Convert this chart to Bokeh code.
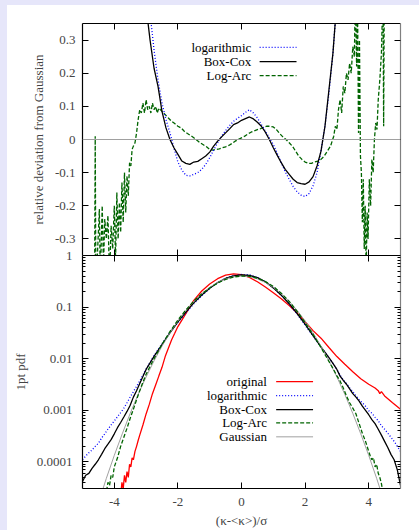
from bokeh.plotting import figure
from bokeh.models import (LinearAxis, LogAxis, FixedTicker, PrintfTickFormatter,
                          Span, Range1d, Grid, CustomLabelingPolicy)
from bokeh.layouts import column
from bokeh.embed import file_html
from bokeh.resources import INLINE
from bokeh.core.properties import value

# ---------------- data: top panel (relative deviation from Gaussian) ----------------
TOP_X = [-3.0, -2.875, -2.75, -2.625, -2.5, -2.375, -2.25, -2.125, -2.0, -1.875, -1.75, -1.625,
         -1.5, -1.375, -1.25, -1.125, -1.0, -0.875, -0.75, -0.625, -0.5, -0.375, -0.25, -0.125,
         0.0, 0.125, 0.25, 0.375, 0.5, 0.625, 0.75, 0.875, 1.0, 1.125, 1.25, 1.375, 1.5, 1.625,
         1.75, 1.875, 2.0, 2.125, 2.25, 2.375, 2.5, 2.625, 2.75, 2.875, 3.0]
TOP_LOG = [0.48, 0.38, 0.27, 0.18, 0.11, 0.06, 0.02, -0.025, -0.068, -0.092,
           -0.108, -0.11, -0.105, -0.1, -0.09, -0.075, -0.055, -0.032, -0.01, 0.01,
           0.027, 0.042, 0.055, 0.064, 0.072, 0.082, 0.09, 0.08, 0.065, 0.045,
           0.025, 0.005, -0.015, -0.042, -0.07, -0.097, -0.12, -0.142, -0.158, -0.168,
           -0.172, -0.163, -0.14, -0.1, -0.035, 0.04, 0.14, 0.26, 0.42]
TOP_BOXCOX = [0.40, 0.30, 0.215, 0.16, 0.085, 0.035, 0.0, -0.025, -0.045, -0.065,
              -0.072, -0.075, -0.068, -0.066, -0.058, -0.05, -0.038, -0.02, -0.005, 0.008,
              0.02, 0.032, 0.045, 0.05, 0.058, 0.063, 0.068, 0.062, 0.052, 0.04,
              0.022, 0.0, -0.025, -0.048, -0.07, -0.09, -0.105, -0.12, -0.13, -0.133,
              -0.135, -0.128, -0.112, -0.08, -0.035, 0.04, 0.15, 0.26, 0.42]
TOP_LOGARC_X = [-4.62, -4.60, -4.58, -4.50, -4.47, -4.44, -4.38, -4.34, -4.30, -4.25, -4.20, -4.15,
                -4.10, -4.05, -4.00, -3.96, -3.92, -3.88, -3.84, -3.80, -3.76, -3.72, -3.68, -3.64,
                -3.60, -3.56, -3.52, -3.48, -3.44, -3.40, -3.35, -3.30, -3.25, -3.20, -3.15, -3.10,
                -3.05, -3.00, -2.95, -2.90, -2.85, -2.80, -2.75, -2.70, -2.65, -2.60, -2.50, -2.40,
                -2.30, -2.20, -2.10, -2.00, -1.90, -1.80, -1.70, -1.60, -1.50, -1.40, -1.30, -1.20,
                -1.10, -1.00, -0.90, -0.80, -0.70, -0.60, -0.50, -0.40, -0.30, -0.20, -0.10, 0.00,
                0.10, 0.20, 0.30, 0.40, 0.50, 0.60, 0.70, 0.80, 0.90, 1.00, 1.10, 1.20,
                1.30, 1.40, 1.50, 1.60, 1.70, 1.80, 1.90, 2.00, 2.10, 2.20, 2.30, 2.40,
                2.50, 2.60, 2.70, 2.80, 2.90, 2.95, 3.00, 3.05, 3.10, 3.15, 3.20, 3.25,
                3.30, 3.35, 3.40, 3.45, 3.50, 3.55, 3.58, 3.62, 3.65, 3.68, 3.71, 3.74,
                3.77, 3.80, 3.83, 3.86, 3.89, 3.92, 3.95, 3.98, 4.02, 4.06, 4.10, 4.14,
                4.18, 4.22, 4.26, 4.30, 4.35, 4.40, 4.45, 4.47, 4.49, 4.60, 5.00]
TOP_LOGARC = [-0.45, 0.01, -0.45, -0.28, -0.21, -0.42, -0.20, -0.38, -0.24, -0.30, -0.23, -0.42,
              -0.26, -0.33, -0.20, -0.36, -0.16, -0.30, -0.19, -0.28, -0.13, -0.25, -0.10, -0.22,
              -0.11, -0.17, -0.07, -0.08, -0.03, -0.02, -0.01, 0.02, 0.06, 0.09, 0.08, 0.11,
              0.08, 0.12, 0.09, 0.10, 0.08, 0.11, 0.09, 0.10, 0.08, 0.095, 0.085, 0.075,
              0.065, 0.055, 0.048, 0.04, 0.035, 0.025, 0.018, 0.012, 0.005, -0.002, -0.01, -0.016,
              -0.022, -0.03, -0.032, -0.03, -0.028, -0.025, -0.022, -0.018, -0.012, -0.005, 0.0, 0.005,
              0.01, 0.017, 0.022, 0.026, 0.03, 0.033, 0.037, 0.04, 0.04, 0.038, 0.03, 0.018,
              0.008, 0.0, -0.01, -0.02, -0.035, -0.05, -0.06, -0.068, -0.072, -0.072, -0.068, -0.065,
              -0.06, -0.05, -0.035, -0.02, 0.01, 0.04, 0.03, 0.09, 0.12, 0.08, 0.16, 0.14,
              0.20, 0.18, 0.23, 0.20, 0.28, 0.25, 0.45, 0.22, 0.40, 0.02, 0.30, -0.05,
              -0.10, -0.25, -0.12, -0.33, -0.20, -0.40, -0.22, -0.30, -0.12, -0.20, -0.06, -0.10,
              0.0, 0.05, 0.03, 0.12, 0.18, 0.26, 0.45, 0.04, 0.45, 0.6, 0.8]
TOP_YTICKS = [-0.3, -0.2, -0.1, 0, 0.1, 0.2, 0.3]

# ---------------- data: bottom panel (1pt pdf) ----------------
X_TICKS = [-4, -2, 0, 2, 4]
PDF_YTICKS = [1e-4, 1e-3, 1e-2, 1e-1, 1.0]

GAUSS_X = [-5.0, -4.75, -4.5, -4.25, -4.0, -3.75, -3.5, -3.25, -3.0, -2.75, -2.5, -2.25, -2.0,
           -1.75, -1.5, -1.25, -1.0, -0.75, -0.5, -0.25, 0.0, 0.25, 0.5, 0.75, 1.0, 1.25, 1.5,
           1.75, 2.0, 2.25, 2.5, 2.75, 3.0, 3.25, 3.5, 3.75, 4.0, 4.25, 4.5, 4.75, 5.0]
GAUSS_Y = [1.5e-6, 5.1e-6, 1.6e-5, 4.8e-5, 1.34e-4, 3.5e-4, 8.7e-4, 2.03e-3, 4.43e-3, 9.1e-3,
           0.0175, 0.0317, 0.054, 0.0863, 0.1295, 0.1826, 0.242, 0.3011, 0.3521, 0.3867, 0.3989,
           0.3867, 0.3521, 0.3011, 0.242, 0.1826, 0.1295, 0.0863, 0.054, 0.0317, 0.0175, 9.1e-3,
           4.43e-3, 2.03e-3, 8.7e-4, 3.5e-4, 1.34e-4, 4.8e-5, 1.6e-5, 5.1e-6, 1.5e-6]

TR_X = [-5.0, -4.9, -4.8, -4.7, -4.6, -4.5, -4.4, -4.3, -4.2, -4.1, -4.0, -3.9, -3.8, -3.7,
        -3.6, -3.5, -3.4, -3.3, -3.2, -3.1, -3.0, -2.875, -2.75, -2.5, -2.25, -2.0, -1.75, -1.5,
        -1.25, -1.0, -0.75, -0.5, -0.25, 0.0, 0.25, 0.5, 0.75, 1.0, 1.25, 1.5, 1.75, 2.0, 2.25,
        2.5, 2.75, 2.875, 3.0, 3.1, 3.2, 3.3, 3.4, 3.5, 3.6, 3.7, 3.8, 3.9, 4.0, 4.1, 4.2, 4.3,
        4.4, 4.5, 4.6, 4.7, 4.8, 4.9, 5.0]
PDF_LOG = [0.00011, 0.00013, 0.00015, 0.00017, 0.0002, 0.00023, 0.00029, 0.00035, 0.00043, 0.00052,
           0.00062, 0.00075, 0.0009, 0.0011, 0.0014, 0.0018, 0.0023, 0.0029, 0.0037, 0.0048,
           0.0063, 0.0085, 0.0116, 0.0194, 0.0323, 0.0503, 0.077, 0.1164, 0.1665, 0.2287,
           0.298, 0.3615, 0.408, 0.428, 0.422, 0.375, 0.3085, 0.238, 0.170, 0.1144,
           0.0727, 0.0447, 0.0273, 0.0169, 0.0104, 0.0081, 0.0062, 0.0048, 0.0039, 0.0033,
           0.0027, 0.0023, 0.0019, 0.0016, 0.0014, 0.0012, 0.00098, 0.00088, 0.00073, 0.00063,
           0.0005, 0.00043, 0.00036, 0.0003, 0.00025, 0.0002, 0.00016]
PDF_BOXCOX = [4.2e-5, 5.5e-5, 6e-5, 7.5e-5, 9e-5, 0.00011, 0.00014, 0.00018, 0.00022, 0.00027,
              0.00035, 0.00046, 0.00058, 0.00074, 0.00095, 0.00125, 0.0018, 0.0024, 0.0033, 0.0045,
              0.0062, 0.0083, 0.0111, 0.0188, 0.0317, 0.0516, 0.0801, 0.1209, 0.172, 0.2323,
              0.2995, 0.359, 0.4044, 0.422, 0.4133, 0.3714, 0.3085, 0.236, 0.1702, 0.1164,
              0.0751, 0.0467, 0.0281, 0.0169, 0.0105, 0.0081, 0.0062, 0.0046, 0.0038, 0.0032,
              0.0026, 0.0021, 0.0018, 0.0015, 0.0012, 0.001, 0.00082, 0.00066, 0.00055, 0.00043,
              0.00033, 0.00025, 0.00019, 0.00014, 0.00011, 7e-5, 3.5e-5]

LA_X = [-4.35, -4.3, -4.25, -4.2, -4.15, -4.1, -4.05, -4.0, -3.9, -3.8, -3.7, -3.6, -3.5, -3.4,
        -3.3, -3.2, -3.1, -3.0, -2.875, -2.75, -2.5, -2.25, -2.0, -1.75, -1.5, -1.25, -1.0,
        -0.75, -0.5, -0.25, 0.0, 0.25, 0.5, 0.75, 1.0, 1.25, 1.5, 1.75, 2.0, 2.25, 2.5, 2.75,
        2.875, 3.0, 3.1, 3.2, 3.3, 3.4, 3.5, 3.6, 3.7, 3.8, 3.9, 4.0, 4.05, 4.1, 4.15, 4.2,
        4.25, 4.3, 4.35, 4.4, 4.45]
PDF_LOGARC = [2.2e-5, 3e-5, 2.6e-5, 4e-5, 3.5e-5, 5.5e-5, 5e-5, 8e-5, 0.00012, 0.0002, 0.0003,
              0.00045, 0.0007, 0.00105, 0.0016, 0.0024, 0.0035, 0.005, 0.0071, 0.01, 0.0189,
              0.0334, 0.0562, 0.088, 0.1307, 0.1808, 0.2347, 0.292, 0.344, 0.383, 0.401, 0.395,
              0.3626, 0.3124, 0.2517, 0.1857, 0.1287, 0.0824, 0.0502, 0.0295, 0.0165, 0.00883,
              0.0065, 0.00465, 0.0037, 0.0027, 0.0019, 0.0014, 0.0011, 0.00085, 0.00055, 0.00036,
              0.00025, 0.00016, 0.00013, 0.00011, 0.00012, 8e-5, 9e-5, 6e-5, 5e-5, 3.8e-5, 2.5e-5]

ORIG_X = [-3.8, -3.76, -3.72, -3.68, -3.64, -3.6, -3.56, -3.52, -3.48, -3.44, -3.4, -3.35, -3.3,
          -3.25, -3.2, -3.1, -3.0, -2.9, -2.8, -2.7, -2.6, -2.5, -2.4, -2.3, -2.2, -2.1, -2.0,
          -1.75, -1.5, -1.25, -1.0, -0.75, -0.5, -0.25, 0.0, 0.25, 0.5, 0.75, 1.0, 1.25, 1.5,
          1.75, 2.0, 2.25, 2.5, 2.75, 3.0, 3.25, 3.5, 3.75, 4.0, 4.2, 4.3, 4.35, 4.4, 4.5,
          4.75, 5.0]
PDF_ORIG = [2.2e-5, 4e-5, 3e-5, 5.5e-5, 4e-5, 6.5e-5, 5e-5, 9e-5, 8e-5, 0.00012, 0.00011, 0.00016,
            0.0002, 0.00026, 0.00033, 0.00052, 0.00085, 0.0013, 0.0021, 0.0031, 0.0046, 0.0068,
            0.011, 0.016, 0.023, 0.031, 0.042, 0.075, 0.135, 0.205, 0.28, 0.355, 0.415, 0.44,
            0.425, 0.375, 0.31, 0.245, 0.19, 0.145, 0.107, 0.077, 0.052, 0.035, 0.025, 0.0165,
            0.011, 0.0078, 0.0056, 0.0041, 0.0032, 0.0027, 0.0024, 0.0021, 0.0023, 0.0019,
            0.0014, 0.00105]

TOP_LEGEND = ["logarithmic", "Box-Cox", "Log-Arc"]
BOTTOM_LEGEND = ["original", "logarithmic", "Box-Cox", "Log-Arc", "Gaussian"]

# ---------------- styles ----------------
FONT = "Liberation Serif"
FS = "13px"
C_LOG, C_BC, C_LA, C_ORIG, C_GAUSS = "#0000ff", "#000000", "#006400", "#ff0000", "#a0a0a0"
STYLE = {
    "original": dict(line_color=C_ORIG, line_width=1.3, line_dash="solid"),
    "logarithmic": dict(line_color=C_LOG, line_width=1.3, line_dash="1 2"),
    "Box-Cox": dict(line_color=C_BC, line_width=1.3, line_dash="solid"),
    "Log-Arc": dict(line_color=C_LA, line_width=1.3, line_dash="4 2"),
    "Gaussian": dict(line_color=C_GAUSS, line_width=1.0, line_dash="solid"),
}


def make_axis(cls, ticker, show_labels, standoff=8, minor=False, line_color="black", **kw):
    extra = {}
    if not show_labels:
        # tick marks only (mirror axis on the opposite side of the frame)
        extra["major_label_policy"] = CustomLabelingPolicy(code="return []")
    ax = cls(ticker=ticker, formatter=PrintfTickFormatter(format="%g"),
             axis_line_color=line_color, axis_line_width=1.2,
             major_tick_in=6, major_tick_out=0,
             minor_tick_in=3 if minor else 0, minor_tick_out=0,
             major_tick_line_color="black", minor_tick_line_color="black",
             major_label_text_font=FONT,
             major_label_text_font_size=FS if show_labels else "0px",
             major_label_standoff=standoff if show_labels else 0,
             axis_label_text_font=FONT, axis_label_text_font_size=FS,
             axis_label_text_font_style="normal", **extra, **kw)
    return ax


def base_fig(height, y_range, y_type, top, bottom, margin):
    p = figure(width=412, height=height, x_range=Range1d(-5, 5), y_range=y_range,
               y_axis_type=y_type, x_axis_location=None, y_axis_location=None,
               output_backend="svg", toolbar_location=None,
               min_border_left=75, min_border_right=19,
               min_border_top=top, min_border_bottom=bottom, margin=margin)
    p.center = [r for r in p.center if not isinstance(r, Grid)]
    p.outline_line_color = None
    p.background_fill_color = "white"
    return p


# ---------------- top panel ----------------
p1 = base_fig(250, Range1d(-0.35, 0.35), "linear", 18, 0, (0, 0, 0, 0))
p1.border_fill_color = "white"
p1.add_layout(make_axis(LinearAxis, FixedTicker(ticks=TOP_YTICKS), True, standoff=7,
                        axis_label="relative deviation from Gaussian",
                        axis_label_standoff=6), "left")
p1.add_layout(make_axis(LinearAxis, FixedTicker(ticks=TOP_YTICKS), False,
                        line_color="#808080"), "right")
p1.add_layout(make_axis(LinearAxis, FixedTicker(ticks=X_TICKS), False), "below")
p1.add_layout(make_axis(LinearAxis, FixedTicker(ticks=X_TICKS), False), "above")

p1.add_layout(Span(location=0, dimension="width", line_color=C_GAUSS, line_width=1))
p1.line(TOP_LOGARC_X, TOP_LOGARC, **STYLE["Log-Arc"])
p1.line(TOP_X, TOP_LOG, **STYLE["logarithmic"])
p1.line(TOP_X, TOP_BOXCOX, **STYLE["Box-Cox"])

# legend (layout positions, label left of sample as in the original)
leg1_text_x, leg1_x0, leg1_x1 = 0.31, 0.57, 1.73
leg1_y = [0.278, 0.235, 0.193]
p1.text(x=[leg1_text_x] * 3, y=leg1_y, text=TOP_LEGEND, text_align="right",
        text_baseline="middle", text_font=value(FONT), text_font_size=FS, text_color="black")
for name, yy in zip(TOP_LEGEND, leg1_y):
    p1.segment(x0=[leg1_x0], y0=[yy], x1=[leg1_x1], y1=[yy], **STYLE[name])

# ---------------- bottom panel ----------------
# it overlaps the top panel by 8 px (transparent border) so the "1" label on the
# shared border is drawn whole
p2 = base_fig(283, Range1d(3.05e-5, PDF_YTICKS[-1]), "log", 8, 41, (-8, 0, 0, 0))
p2.border_fill_alpha = 0
minor = [k * 10.0 ** d for d in range(-5, 0) for k in range(2, 10)]
p2.add_layout(make_axis(LogAxis, FixedTicker(ticks=PDF_YTICKS, minor_ticks=minor), True,
                        standoff=10, minor=True,
                        axis_label="1pt pdf", axis_label_standoff=6), "left")
p2.add_layout(make_axis(LogAxis, FixedTicker(ticks=PDF_YTICKS, minor_ticks=minor), False,
                        minor=True, line_color="#808080"), "right")
p2.add_layout(make_axis(LinearAxis, FixedTicker(ticks=X_TICKS), True, standoff=9,
                        axis_label="(κ-<κ>)/σ", axis_label_standoff=4), "below")
p2.add_layout(make_axis(LinearAxis, FixedTicker(ticks=X_TICKS), False), "above")

p2.line(ORIG_X, PDF_ORIG, **STYLE["original"])
p2.line(TR_X, PDF_LOG, **STYLE["logarithmic"])
p2.line(TR_X, PDF_BOXCOX, **STYLE["Box-Cox"])
p2.line(GAUSS_X, GAUSS_Y, **STYLE["Gaussian"])
p2.line(LA_X, PDF_LOGARC, **STYLE["Log-Arc"])

leg2_text_x, leg2_x0, leg2_x1 = 0.80, 1.09, 2.25
leg2_y = [0.00359, 0.00192, 0.00103, 0.00057, 0.000306]
p2.text(x=[leg2_text_x] * 5, y=leg2_y, text=BOTTOM_LEGEND, text_align="right",
        text_baseline="middle", text_font=value(FONT), text_font_size=FS, text_color="black")
for name, yy in zip(BOTTOM_LEGEND, leg2_y):
    p2.segment(x0=[leg2_x0], y0=[yy], x1=[leg2_x1], y1=[yy], **STYLE[name])

inner = column(p1, p2, spacing=0, margin=(5, 0, 0, 7), styles={"background-color": "white"})
layout = column(inner, spacing=0, styles={"background-color": "#e6e6fa"})

open("out.html", "w").write(file_html(layout, INLINE))
